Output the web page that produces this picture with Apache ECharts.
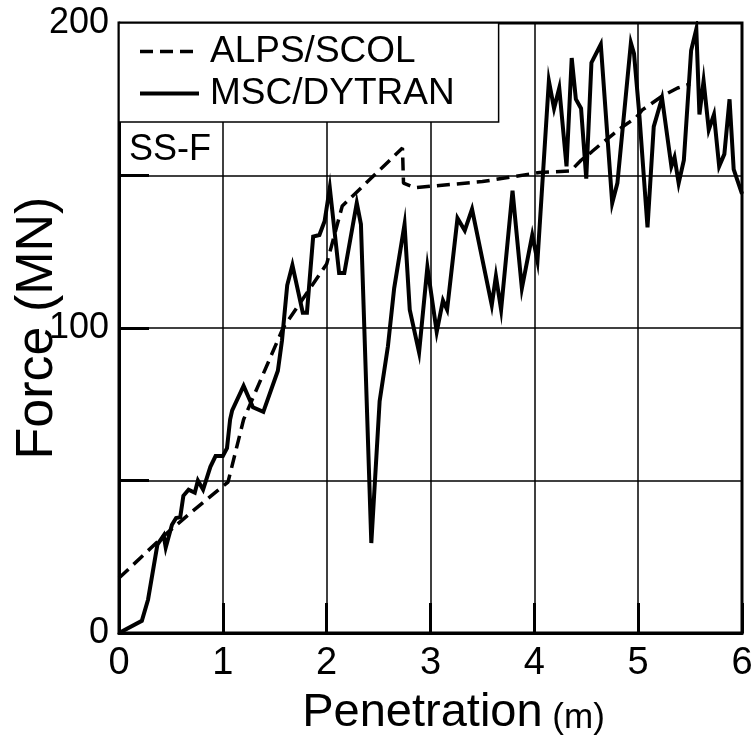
<!DOCTYPE html>
<html>
<head>
<meta charset="utf-8">
<title>SS-F force vs penetration</title>
<script src="https://cdn.jsdelivr.net/npm/echarts@6/dist/echarts.min.js"></script>
<style>
  html, body { margin: 0; padding: 0; background: #fff; }
  #chart { width: 751px; height: 746px; }
</style>
</head>
<body>
<div id="chart"></div>
<script>
// ALPS/SCOL prediction (dashed)
const alpsX = [0, 0.42, 0.71, 1.05, 1.2, 1.58, 2.0, 2.15, 2.73, 2.74, 2.85, 3.5, 4.05, 4.35, 4.45, 4.55, 4.63, 4.74, 4.85, 4.98, 5.04, 5.23, 5.38, 5.5];
const alpsY = [18, 31.5, 40, 49.5, 70, 100, 121, 140, 159, 147.5, 146, 148, 151, 151.5, 155, 157.7, 160, 163, 166, 169, 171.5, 176, 178.7, 180];

// MSC/DYTRAN simulation (solid)
const dytranX = [0, 0.22, 0.28, 0.37, 0.43, 0.45, 0.51, 0.55, 0.59, 0.62, 0.67, 0.73, 0.76, 0.81, 0.88, 0.93, 1.0, 1.04, 1.07, 1.09, 1.2, 1.29, 1.39, 1.53, 1.57, 1.62, 1.67, 1.77, 1.81, 1.87, 1.93, 1.98, 2.03, 2.12, 2.17, 2.29, 2.33, 2.43, 2.51, 2.59, 2.65, 2.75, 2.80, 2.89, 2.97, 3.06, 3.12, 3.16, 3.26, 3.33, 3.40, 3.59, 3.63, 3.68, 3.79, 3.88, 3.98, 4.03, 4.14, 4.19, 4.24, 4.31, 4.36, 4.40, 4.45, 4.50, 4.55, 4.64, 4.75, 4.80, 4.93, 4.96, 5.01, 5.09, 5.15, 5.23, 5.32, 5.35, 5.39, 5.44, 5.51, 5.56, 5.59, 5.63, 5.68, 5.73, 5.78, 5.83, 5.88, 5.92, 6.0];
const dytranY = [0, 4, 11, 29, 32, 28, 35.5, 37.7, 38, 45, 47, 46, 50, 47, 54.5, 58, 58, 60.6, 70, 73, 81, 74, 72.5, 86, 96, 114, 120.6, 105, 105, 130, 130.5, 135, 146, 118, 118, 141, 134, 29.5, 76, 94, 113, 134, 106, 92, 120, 98.7, 109, 106, 136, 132, 139, 107.5, 117, 106, 145, 113, 130.5, 122, 181, 172, 178.7, 153, 188.5, 175, 172, 149, 187, 193, 141, 147.5, 193.5, 190, 170.5, 133, 166, 175.4, 153, 156, 147.5, 155, 191, 198, 170, 181, 165, 170, 153, 157, 175, 152, 144];

// Axis ranges and labelled ticks
const xTicks = [0, 1, 2, 3, 4, 5, 6];
const yLabelled = [0, 100, 200];

const pairs = (xs, ys) => xs.map((x, i) => [x, ys[i]]);

const FONT = '"Liberation Sans", Arial, Helvetica, sans-serif';
const DASH = [13, 7];
const chart = echarts.init(document.getElementById('chart'), null, { renderer: 'canvas' });

chart.setOption({
  backgroundColor: '#fff',
  animation: false,
  textStyle: { fontFamily: FONT, color: '#000' },
  grid: {
    left: 119, right: 9, top: 23, bottom: 113,
    containLabel: false, outerBoundsMode: 'none',
    show: true, borderColor: '#000', borderWidth: 3, backgroundColor: 'transparent'
  },
  xAxis: {
    type: 'value', min: xTicks[0], max: xTicks[xTicks.length - 1], interval: 1,
    name: '{a|Penetration}{b| (m)}',
    nameLocation: 'middle', nameGap: 57, nameMoveOverlap: false,
    nameTextStyle: {
      padding: [0, 0, 0, 46],
      rich: {
        a: { fontSize: 47, fontFamily: FONT, color: '#000' },
        b: { fontSize: 35, fontFamily: FONT, color: '#000', padding: [10, 0, 0, 0] }
      }
    },
    axisLine: { lineStyle: { color: '#000', width: 3 } },
    axisTick: { inside: true, length: 30, lineStyle: { color: '#000', width: 3 } },
    axisLabel: { fontSize: 38, color: '#000', margin: 12, fontFamily: FONT },
    splitLine: { show: true, lineStyle: { color: '#000', width: 1.5 } }
  },
  yAxis: {
    type: 'value', min: 0, max: 200, interval: 50,
    name: 'Force (MN)',
    nameLocation: 'middle', nameGap: 55, nameMoveOverlap: false,
    nameTextStyle: { fontSize: 52, color: '#000', fontFamily: FONT },
    axisLine: { lineStyle: { color: '#000', width: 3 } },
    axisTick: { inside: true, length: 30, lineStyle: { color: '#000', width: 3 } },
    axisLabel: {
      fontSize: 36, color: '#000', margin: 10, fontFamily: FONT,
      formatter: v => (yLabelled.includes(v) ? String(v) : '')
    },
    splitLine: { show: true, lineStyle: { color: '#000', width: 1.5 } }
  },
  legend: {
    left: 119, top: 23, orient: 'vertical',
    data: [
      { name: 'ALPS/SCOL', lineStyle: { color: '#000', width: 3.5, type: DASH } },
      { name: 'MSC/DYTRAN', lineStyle: { color: '#000', width: 4, type: 'solid' } }
    ],
    backgroundColor: '#fff', borderColor: '#000', borderWidth: 1.5,
    padding: [10, 44, 10, 19],
    itemWidth: 59, itemHeight: 14, itemGap: 5,
    itemStyle: { opacity: 0 },
    textStyle: { fontSize: 37, lineHeight: 37, color: '#000', fontFamily: FONT, padding: [0, 0, 0, 6] }
  },
  graphic: [{
    type: 'text', left: 129, top: 132, z: 100,
    style: { text: 'SS-F', font: '36px ' + FONT, fill: '#000' }
  }],
  series: [
    {
      name: 'ALPS/SCOL', type: 'line', data: pairs(alpsX, alpsY),
      symbol: 'none', z: 3, itemStyle: { color: '#000' },
      lineStyle: { color: '#000', width: 3.5, type: DASH }
    },
    {
      name: 'MSC/DYTRAN', type: 'line', data: pairs(dytranX, dytranY),
      symbol: 'none', z: 4, itemStyle: { color: '#000' },
      lineStyle: { color: '#000', width: 4, join: 'miter' }
    }
  ]
});
</script>
</body>
</html>
